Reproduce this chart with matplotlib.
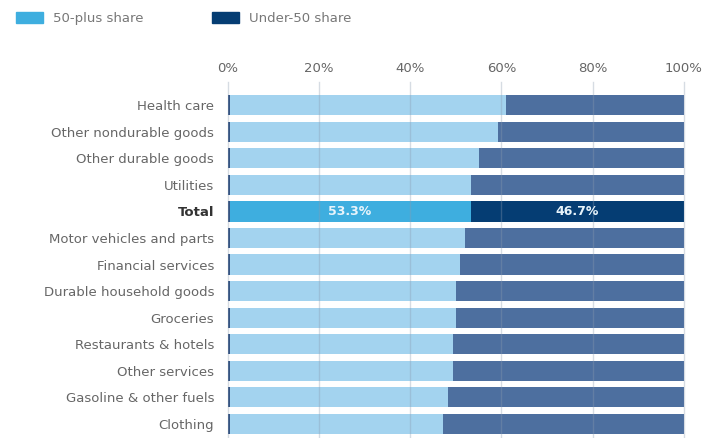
import matplotlib.pyplot as plt
from matplotlib.patches import Patch

categories = ['Health care', 'Other nondurable goods', 'Other durable goods', 'Utilities',
              'Total', 'Motor vehicles and parts', 'Financial services',
              'Durable household goods', 'Groceries', 'Restaurants & hotels',
              'Other services', 'Gasoline & other fuels', 'Clothing']
plus50 = [61.0, 59.2, 55.1, 53.4, 53.3, 52.0, 51.0, 50.1, 50.0, 49.4, 49.3, 48.3, 47.2]
under50 = [100 - v for v in plus50]
under50[4] = 46.7

light = '#a3d3ef'
dark = '#4d6f9f'
tot_light = '#3eaedf'
tot_dark = '#053d73'

fig = plt.figure(figsize=(7.1, 4.38), dpi=100)
ax = fig.add_axes([0.321, 0.002, 0.642, 0.788])

y = list(range(len(categories)))
c1 = [tot_light if c == 'Total' else light for c in categories]
c2 = [tot_dark if c == 'Total' else dark for c in categories]
ax.barh(y, plus50, height=0.76, color=c1, zorder=1)
ax.barh(y, under50, left=plus50, height=0.76, color=c2, zorder=1)

# dark edge at zero on each bar
ax.barh(y, 0.35, height=0.76, color='#2f4f7f', zorder=2)

ti = categories.index('Total')
ax.text(plus50[ti] / 2, ti, '53.3%', ha='center', va='center', color='#e8f4fb',
        fontsize=9, fontweight='bold', zorder=4)
ax.text(plus50[ti] + under50[ti] / 2, ti, '46.7%', ha='center', va='center', color='#e8f4fb',
        fontsize=9, fontweight='bold', zorder=4)

for gx in [0, 20, 40, 60, 80, 100]:
    ax.axvline(gx, ymin=0, ymax=1.03, color='#8a9bb0', alpha=0.35, lw=1, zorder=3, clip_on=False)

ax.set_xlim(0, 100)
ax.set_ylim(len(categories) - 0.5, -0.5)
ax.xaxis.tick_top()
ax.set_xticks([0, 20, 40, 60, 80, 100])
ax.set_xticklabels(['0%', '20%', '40%', '60%', '80%', '100%'])
ax.tick_params(axis='x', length=0, pad=12, labelsize=9.5, labelcolor='#666666')
ax.set_yticks(y)
ax.set_yticklabels(categories)
ax.tick_params(axis='y', length=0, pad=10, labelsize=9.5, labelcolor='#666666')
for lab in ax.get_yticklabels():
    if lab.get_text() == 'Total':
        lab.set_fontweight('bold')
        lab.set_color('#333333')
for s in ax.spines.values():
    s.set_visible(False)

handles = [Patch(color=tot_light, label='50-plus share'), Patch(color=tot_dark, label='Under-50 share')]
fig.legend(handles=handles, loc='upper left', bbox_to_anchor=(0.006, 1.0), ncol=2, frameon=False,
           fontsize=9.5, handlelength=2.0, handleheight=0.9, handletextpad=0.8,
           columnspacing=5.2, labelcolor='#777777')

fig.savefig('out.png', dpi=100)
